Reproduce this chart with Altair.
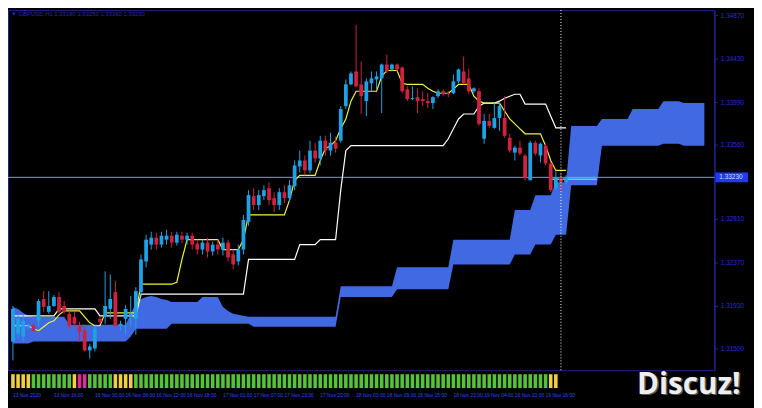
import altair as alt
import pandas as pd

# ---------------- data (H1 candles, price) ----------------
opens = [1.3157, 1.3165, 1.3162, 1.3172, 1.3173, 1.3178, 1.3200, 1.3187, 1.3193, 1.3202,
         1.3193, 1.3185, 1.3182, 1.3173, 1.3168, 1.3148, 1.3150, 1.3180, 1.3182, 1.3190,
         1.3207, 1.3173, 1.3180, 1.3182, 1.3180, 1.3207, 1.3238, 1.3255, 1.3262, 1.3255,
         1.3260, 1.3264, 1.3257, 1.3264, 1.3260, 1.3264, 1.3256, 1.3250, 1.3257, 1.3248,
         1.3255, 1.3250, 1.3257, 1.3245, 1.3238, 1.3250, 1.3278, 1.3304, 1.3295, 1.3304,
         1.3312, 1.3302, 1.3295, 1.3308, 1.3302, 1.3314, 1.3334, 1.3340, 1.3330, 1.3350,
         1.3342, 1.3360, 1.3350, 1.3358, 1.3360, 1.3395, 1.3417, 1.3430, 1.3417, 1.3400,
         1.3418, 1.3422, 1.3423, 1.3437, 1.3432, 1.3437, 1.3434, 1.3412, 1.3402, 1.3404,
         1.3402, 1.3400, 1.3398, 1.3405, 1.3410, 1.3408, 1.3408, 1.3420, 1.3430, 1.3423,
         1.3410, 1.3410, 1.3362, 1.3380, 1.3373, 1.3383, 1.3383, 1.3363, 1.3348, 1.3353,
         1.3345, 1.3320, 1.3358, 1.3345, 1.3355, 1.3337, 1.3312, 1.3323, 1.3318]
highs = [1.3193, 1.3185, 1.3185, 1.3175, 1.3175, 1.3200, 1.3208, 1.3208, 1.3204, 1.3207,
         1.3198, 1.3188, 1.3187, 1.3177, 1.3172, 1.3155, 1.3173, 1.3182, 1.3228, 1.3225,
         1.3218, 1.3178, 1.3194, 1.3203, 1.3212, 1.3245, 1.3265, 1.3268, 1.3267, 1.3268,
         1.3270, 1.3268, 1.3268, 1.3268, 1.3267, 1.3267, 1.3260, 1.3260, 1.3262, 1.3258,
         1.3260, 1.3262, 1.3260, 1.3250, 1.3255, 1.3285, 1.3310, 1.3312, 1.3310, 1.3315,
         1.3318, 1.3308, 1.3312, 1.3315, 1.3320, 1.3340, 1.3350, 1.3345, 1.3360, 1.3358,
         1.3365, 1.3365, 1.3368, 1.3364, 1.3395, 1.3422, 1.3430, 1.3477, 1.3440, 1.3423,
         1.3430, 1.3430, 1.3438, 1.3447, 1.3438, 1.3438, 1.3435, 1.3415, 1.3415, 1.3413,
         1.3410, 1.3408, 1.3405, 1.3412, 1.3412, 1.3410, 1.3427, 1.3433, 1.3445, 1.3433,
         1.3414, 1.3413, 1.3387, 1.3387, 1.3398, 1.3398, 1.3405, 1.3367, 1.3355, 1.3360,
         1.3347, 1.3360, 1.3360, 1.3358, 1.3357, 1.3339, 1.3330, 1.3327, 1.3325]
lows = [1.3138, 1.3160, 1.3157, 1.3169, 1.3167, 1.3172, 1.3187, 1.3185, 1.3192, 1.3185,
        1.3185, 1.3170, 1.3172, 1.3157, 1.3147, 1.3140, 1.3147, 1.3175, 1.3175, 1.3180,
        1.3172, 1.3168, 1.3164, 1.3172, 1.3164, 1.3202, 1.3232, 1.3250, 1.3250, 1.3252,
        1.3255, 1.3252, 1.3254, 1.3256, 1.3255, 1.3250, 1.3245, 1.3245, 1.3242, 1.3244,
        1.3245, 1.3244, 1.3238, 1.3230, 1.3234, 1.3245, 1.3274, 1.3290, 1.3290, 1.3300,
        1.3295, 1.3288, 1.3290, 1.3297, 1.3298, 1.3310, 1.3328, 1.3325, 1.3327, 1.3338,
        1.3335, 1.3345, 1.3345, 1.3348, 1.3358, 1.3392, 1.3416, 1.3414, 1.3387, 1.3385,
        1.3410, 1.3412, 1.3388, 1.3428, 1.3430, 1.3430, 1.3408, 1.3400, 1.3401, 1.3388,
        1.3395, 1.3393, 1.3392, 1.3403, 1.3405, 1.3404, 1.3407, 1.3418, 1.3417, 1.3407,
        1.3408, 1.3375, 1.3357, 1.3373, 1.3372, 1.3370, 1.3363, 1.3348, 1.3340, 1.3345,
        1.3320, 1.3320, 1.3345, 1.3338, 1.3335, 1.3308, 1.3310, 1.3308, 1.3316]
closes = [1.3190, 1.3180, 1.3178, 1.3173, 1.3168, 1.3198, 1.3192, 1.3193, 1.3202, 1.3187,
          1.3187, 1.3173, 1.3175, 1.3167, 1.3148, 1.3152, 1.3170, 1.3177, 1.3193, 1.3200,
          1.3173, 1.3175, 1.3190, 1.3185, 1.3208, 1.3240, 1.3260, 1.3262, 1.3255, 1.3264,
          1.3264, 1.3257, 1.3265, 1.3260, 1.3264, 1.3255, 1.3250, 1.3257, 1.3248, 1.3255,
          1.3250, 1.3257, 1.3242, 1.3235, 1.3250, 1.3280, 1.3305, 1.3295, 1.3305, 1.3310,
          1.3300, 1.3295, 1.3308, 1.3302, 1.3315, 1.3335, 1.3340, 1.3330, 1.3350, 1.3342,
          1.3360, 1.3350, 1.3358, 1.3352, 1.3392, 1.3417, 1.3428, 1.3415, 1.3405, 1.3420,
          1.3423, 1.3425, 1.3437, 1.3430, 1.3437, 1.3432, 1.3410, 1.3402, 1.3403, 1.3400,
          1.3400, 1.3398, 1.3404, 1.3410, 1.3407, 1.3407, 1.3420, 1.3432, 1.3418, 1.3410,
          1.3413, 1.3377, 1.3380, 1.3375, 1.3383, 1.3395, 1.3365, 1.3350, 1.3353, 1.3347,
          1.3322, 1.3358, 1.3347, 1.3357, 1.3337, 1.3310, 1.3323, 1.3318, 1.3323]

tenkan = ([1.3173] * 4 + [1.3170, 1.3168, 1.3172, 1.3176, 1.3178, 1.3184] + [1.3188] * 4
          + [1.3182, 1.3176, 1.3173, 1.3173] + [1.3186] * 7 + [1.3215] * 7 + [1.3217, 1.3240]
          + [1.3260] * 7 + [1.3250] * 4 + [1.3260] + [1.3285] * 8 + [1.3300, 1.3320]
          + [1.3325] * 4 + [1.3340, 1.3352, 1.3355, 1.3360, 1.3372, 1.3382, 1.3400]
          + [1.3410] * 5 + [1.3425] + [1.3431] * 3 + [1.3418] + [1.3417] * 4 + [1.3413, 1.3410]
          + [1.3408] * 3 + [1.3412] + [1.3417] * 3 + [1.3405, 1.3400] + [1.3398] * 4
          + [1.3390, 1.3382, 1.3377, 1.3372] + [1.3367] * 4 + [1.3355, 1.3340] + [1.3330] * 3)
kijun = ([1.3183] * 9 + [1.3190] * 8 + [1.3183] * 8 + [1.3205] * 21 + [1.3240] * 10
         + [1.3255] * 4 + [1.3260] * 4 + [1.3310, 1.3350] + [1.3355] * 19
         + [1.3362, 1.3372, 1.3382] + [1.3387] * 3 + [1.3395] + [1.3398] * 3
         + [1.3400, 1.3403, 1.3405] + [1.3407] * 2 + [1.3397] * 5 + [1.3385] + [1.3373] * 3)
cloud_top = ([1.3192, 1.3190, 1.3186, 1.3183] + [1.3182] * 7 + [1.3174] * 12 + [1.3185]
             + [1.3196, 1.3200, 1.3202, 1.3203, 1.3202, 1.3200, 1.3199]
             + [1.3197] * 6 + [1.3202] * 4 + [1.3192, 1.3188, 1.3185, 1.3184, 1.3183, 1.3182]
             + [1.3182] * 17 + [1.3213] * 11
             + [1.3232] * 11 + [1.3260] * 12 + [1.3290] * 4 + [1.3305] * 4 + [1.3318] * 3
             + [1.3375] * 6 + [1.3382] * 6 + [1.3392] * 6 + [1.3400] * 4 + [1.3398] * 5)
cloud_bot = ([1.3155] * 4 + [1.3157] * 7 + [1.3157] * 12 + [1.3162] + [1.3170] * 7
             + [1.3175] * 6 + [1.3175] * 4 + [1.3175] * 6 + [1.3172] * 17 + [1.3202] * 11
             + [1.3210] * 11 + [1.3235] * 12 + [1.3245] * 4 + [1.3255] * 4 + [1.3265] * 3
             + [1.3315] * 6 + [1.3355] * 6 + [1.3355] * 6 + [1.3357] * 4 + [1.3355] * 5)
# short cyan segment near the current price, right of the last bar
cyan_bars = [105, 114]
cyan_vals = [1.3321, 1.3321]

# signal strip under the chart: Y = yellow, G = green, M = magenta
strip = "YYYY" + "G" * 8 + "Y" + "MM" + "G" * 5 + "YYYY" + "G" * 81 + "YY"

date_bars = [0, 8, 16, 22, 28, 34, 41, 47, 53, 60, 67, 73, 79, 86, 92, 98, 104]
date_labels = ["13 Nov 2020", "13 Nov 16:00", "16 Nov 00:00", "16 Nov 06:00", "16 Nov 12:00",
               "16 Nov 18:00", "17 Nov 01:00", "17 Nov 07:00", "17 Nov 13:00", "17 Nov 20:00",
               "18 Nov 03:00", "18 Nov 09:00", "18 Nov 15:00", "18 Nov 22:00", "19 Nov 04:00",
               "19 Nov 10:00", "19 Nov 16:00"]
price_ticks = [1.3487, 1.3465, 1.3443, 1.3421, 1.3399, 1.3377, 1.3356, 1.3303, 1.3281,
               1.3259, 1.3237, 1.3216, 1.3193, 1.3172, 1.3150]
last_price = 1.3323
shift_bar = 107
title_text = "\u25bc GBPUSD,H1  1.33180 1.33250 1.33160 1.33230"

# ---------------- tables ----------------
n = len(opens)
candles = pd.DataFrame({"i": range(n), "o": opens, "h": highs, "l": lows, "c": closes})
up = candles[candles["c"] >= candles["o"]]
down = candles[candles["c"] < candles["o"]]
tk = pd.DataFrame({"i": range(n), "v": tenkan})
kj = pd.DataFrame({"i": range(n), "v": kijun})
cloud = pd.DataFrame({"i": range(len(cloud_top)), "a": cloud_top, "b": cloud_bot})
cyan = pd.DataFrame({"i": cyan_bars, "v": cyan_vals})
strip_df = pd.DataFrame({"i": range(len(strip)), "k": list(strip)})
dates = pd.DataFrame({"i": date_bars, "t": date_labels})

W, H = 714, 364
xs = alt.Scale(domain=[0, 136], nice=False, zero=False)
ys = alt.Scale(domain=[1.3128, 1.3492], nice=False, zero=False)
SMALL = "Liberation Sans"

X = alt.X("i:Q", scale=xs, axis=None)

cloud_l = alt.Chart(cloud).mark_area(color="#4169e1", opacity=1, interpolate="linear").encode(
    x=X,
    y=alt.Y("a:Q", scale=ys, axis=alt.Axis(orient="right", values=price_ticks, format=".5f",
                                            labelColor="#2b2bd8", labelFontSize=6.5, labelFont=SMALL,
                                            domainColor="#2424a8", tickColor="#2424a8", tickSize=3,
                                            grid=False, title=None, labelPadding=3)),
    y2="b:Q",
)

price_line = alt.Chart(pd.DataFrame({"p": [last_price]})).mark_rule(
    color="#8d9ec4", strokeWidth=1).encode(y=alt.Y("p:Q", scale=ys))
cyan_l = alt.Chart(cyan).mark_line(color="#2ee6ff", strokeWidth=1.5).encode(
    x=X, y=alt.Y("v:Q", scale=ys))

kijun_l = alt.Chart(kj).mark_line(strokeWidth=1.2, color="#ffffff").encode(
    x=X, y=alt.Y("v:Q", scale=ys))
tenkan_l = alt.Chart(tk).mark_line(strokeWidth=1.2, color="#f2f23a").encode(
    x=X, y=alt.Y("v:Q", scale=ys))

UP, DOWN = "#1ea2e6", "#d0213f"


def candle_layers(df, col):
    wick = alt.Chart(df).mark_rule(strokeWidth=1, color=col).encode(
        x=X, y=alt.Y("l:Q", scale=ys), y2="h:Q")
    body = alt.Chart(df).mark_bar(size=3.8, color=col).encode(
        x=X, y=alt.Y("o:Q", scale=ys), y2="c:Q")
    return [wick, body]


strip_cols = {"Y": "#f1cf45", "G": "#55c23a", "M": "#e02a9e"}
strip_layers = [
    alt.Chart(strip_df[strip_df["k"] == k]).mark_tick(
        orient="vertical", thickness=3.6, size=14, color=col, opacity=1).encode(x=X, y=alt.value(375))
    for k, col in strip_cols.items()
]

shift_line = alt.Chart(pd.DataFrame({"i": [shift_bar]})).mark_rule(
    color="#ffffff", strokeDash=[1, 2], strokeWidth=1).encode(x=X)

date_l = alt.Chart(dates).mark_text(align="left", baseline="middle", fontSize=5, font=SMALL,
                                    color="#2a4ef0").encode(x=X, y=alt.value(389), text="t:N")

title_l = alt.Chart(pd.DataFrame({"t": [title_text]})).mark_text(
    align="left", baseline="middle", fontSize=6, font=SMALL, color="#2828b8").encode(
    x=alt.value(3), y=alt.value(4), text="t:N")

box = alt.Chart(pd.DataFrame({"p1": [last_price + 0.0005], "p2": [last_price - 0.0005]})).mark_rect(
    color="#2038ff").encode(x=alt.value(715), x2=alt.value(748), y=alt.Y("p1:Q", scale=ys), y2="p2:Q")
box_t = alt.Chart(pd.DataFrame({"p": [last_price], "t": [f"{last_price:.5f}"]})).mark_text(
    align="left", baseline="middle", fontSize=6.5, font=SMALL, color="#d4dcff").encode(
    x=alt.value(719), y=alt.Y("p:Q", scale=ys), text="t:N")

wm = pd.DataFrame({"t": ["Discuz!"]})
wm_shadow = alt.Chart(wm).mark_text(align="center", baseline="middle", fontSize=30, font="Open Sans",
                                    fontWeight="bold", color="#5a5a5a", dx=1.5, dy=1.5).encode(
    x=alt.value(688), y=alt.value(379), text="t:N")
wm_text = alt.Chart(wm).mark_text(align="center", baseline="middle", fontSize=30, font="Open Sans",
                                  fontWeight="bold", color="#eeeeee").encode(
    x=alt.value(688), y=alt.value(379), text="t:N")

chart = alt.layer(
    cloud_l, price_line, cyan_l, kijun_l, tenkan_l,
    *candle_layers(up, UP), *candle_layers(down, DOWN),
    *strip_layers, shift_line, date_l, title_l,
    box, box_t, wm_shadow, wm_text,
).properties(
    width=W, height=H, background="#000000",
    padding={"left": 0, "top": 0, "right": 40, "bottom": 36},
    autosize=alt.AutoSizeParams(type="none"),
).configure_view(stroke="#22228c", strokeWidth=1)

chart.save("out.html", embed_options={"renderer": "svg", "actions": False})
